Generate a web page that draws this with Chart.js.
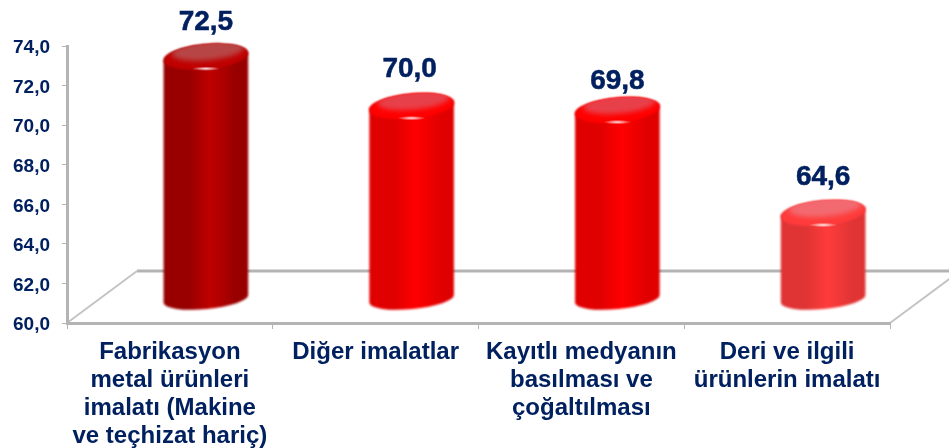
<!DOCTYPE html>
<html><head><meta charset="utf-8">
<style>html,body{margin:0;padding:0;background:#fff}#w{position:relative;width:949px;height:448px}</style>
<script src="https://cdn.jsdelivr.net/npm/chart.js@4"></script>
</head><body><div id="w"><canvas id="c" width="949" height="448"></canvas></div>
<script>
const categories = [
  ["Fabrikasyon","metal ürünleri","imalatı (Makine","ve teçhizat hariç)"],
  ["Diğer imalatlar"],
  ["Kayıtlı medyanın","basılması ve","çoğaltılması"],
  ["Deri ve ilgili","ürünlerin imalatı"]
];
const values = [72.5, 70.0, 69.8, 64.6];
const valueLabels = ["72,5","70,0","69,8","64,6"];
const barColors = ["#c00000","#ff0000","#ff0000","#ff3b3b"];
const edgeColors = ["#980000","#e00000","#e00000","#e03434"];
const capColors = ["#b84545","#e8404a","#e8404a","#f26a70"];
const labelNudgeX = [0,-2,0,0];
const labelNudgeY = [1,-2,6,-1];
const navy = "#002060", gray = "#b4b4b4";
const DX = 36, BACKX = 70, BACKY = 52;

const cylinders = {
  id: "cylinders",
  beforeDraw(chart) {
    const {ctx, chartArea: a} = chart;
    ctx.save();
    ctx.strokeStyle = gray; ctx.lineWidth = 3;
    ctx.beginPath();
    ctx.moveTo(a.left + BACKX, a.bottom - BACKY);
    ctx.lineTo(chart.width, a.bottom - BACKY);
    ctx.stroke();
    ctx.strokeStyle = "#c4c4c4"; ctx.lineWidth = 2;
    ctx.beginPath();
    ctx.moveTo(a.left, a.bottom);
    ctx.lineTo(a.left + BACKX, a.bottom - BACKY);
    ctx.moveTo(a.right, a.bottom);
    ctx.lineTo(a.right + BACKX, a.bottom - BACKY);
    ctx.stroke();
    ctx.restore();
  },
  beforeDatasetDraw(chart, args) {
    const {ctx} = chart;
    const meta = args.meta;
    const baseY = chart.scales.y.getPixelForValue(60);
    ctx.save();
    meta.data.forEach((bar, i) => {
      const cx = bar.x + DX, hw = bar.width / 2, ryT = 12.5, ryB = 10, rot = -0.095;
      const top = bar.y - 19, bot = baseY - 24;
      const g = ctx.createLinearGradient(cx - hw, 0, cx + hw, 0);
      g.addColorStop(0, edgeColors[i]);
      g.addColorStop(0.3, edgeColors[i]);
      g.addColorStop(0.55, barColors[i]);
      g.addColorStop(0.85, edgeColors[i]);
      g.addColorStop(1, edgeColors[i]);
      ctx.save();
      ctx.filter = "blur(0.8px)";
      ctx.fillStyle = g;
      ctx.beginPath();
      ctx.ellipse(cx, top, hw, ryT, rot, Math.PI, 0, false);
      ctx.ellipse(cx, bot, hw, ryB, rot, 0, Math.PI, false);
      ctx.closePath();
      ctx.fill();
      ctx.fillStyle = barColors[i];
      ctx.beginPath();
      ctx.ellipse(cx, top, hw, ryT, rot, 0, Math.PI * 2);
      ctx.fill();
      ctx.beginPath();
      ctx.ellipse(cx, top, hw, ryT, rot, 0, Math.PI * 2);
      ctx.clip();
      ctx.filter = "blur(2.5px)";
      ctx.fillStyle = capColors[i];
      ctx.beginPath();
      ctx.ellipse(cx + 2, top - 6, hw - 6, ryT - 3, rot, 0, Math.PI * 2);
      ctx.fill();
      ctx.restore();
      const h = ctx.createRadialGradient(0, 0, 0, 0, 0, 14);
      h.addColorStop(0, "rgba(255,255,255,.9)");
      h.addColorStop(1, "rgba(255,255,255,0)");
      ctx.save();
      ctx.translate(cx, top + ryT - 0.5);
      ctx.scale(1, 0.16);
      ctx.fillStyle = h;
      ctx.beginPath();
      ctx.arc(0, 0, 14, 0, Math.PI * 2);
      ctx.fill();
      ctx.restore();
      ctx.fillStyle = navy;
      ctx.strokeStyle = navy;
      ctx.lineWidth = 0.5;
      ctx.font = "bold 28px 'Liberation Sans', Arial, sans-serif";
      ctx.textAlign = "center";
      ctx.textBaseline = "middle";
      ctx.fillText(valueLabels[i], cx + labelNudgeX[i], bar.y - 54 + labelNudgeY[i]);
      ctx.strokeText(valueLabels[i], cx + labelNudgeX[i], bar.y - 54 + labelNudgeY[i]);
    });
    ctx.restore();
    return false;
  }
};

new Chart(document.getElementById("c"), {
  type: "bar",
  data: {
    labels: categories,
    datasets: [{
      data: values,
      backgroundColor: barColors,
      barPercentage: 0.413,
      categoryPercentage: 1
    }]
  },
  options: {
    responsive: false,
    animation: false,
    layout: {padding: {top: 46, right: 59, left: 0, bottom: 0}},
    plugins: {legend: {display: false}, tooltip: {enabled: false}},
    scales: {
      x: {
        afterFit(s) { s.height = 125; },
        grid: {drawOnChartArea: false, drawTicks: true, tickLength: 6, color: gray, offset: true},
        border: {color: gray, width: 3},
        ticks: {
          color: navy, maxRotation: 0, autoSkip: false, padding: 9,
          font: {family: "'Liberation Sans', Arial, sans-serif", weight: "bold", size: 24, lineHeight: 1.17}
        }
      },
      y: {
        min: 60, max: 74,
        afterFit(s) { s.width = 67; },
        grid: {drawOnChartArea: false, drawTicks: true, tickLength: 5, color: gray},
        border: {color: gray, width: 3},
        ticks: {
          stepSize: 2, color: navy, padding: 12, labelOffset: 2,
          font: {family: "'Liberation Sans', Arial, sans-serif", weight: "bold", size: 19},
          callback: v => v.toFixed(1).replace(".", ",")
        }
      }
    }
  },
  plugins: [cylinders]
});
</script></body></html>
